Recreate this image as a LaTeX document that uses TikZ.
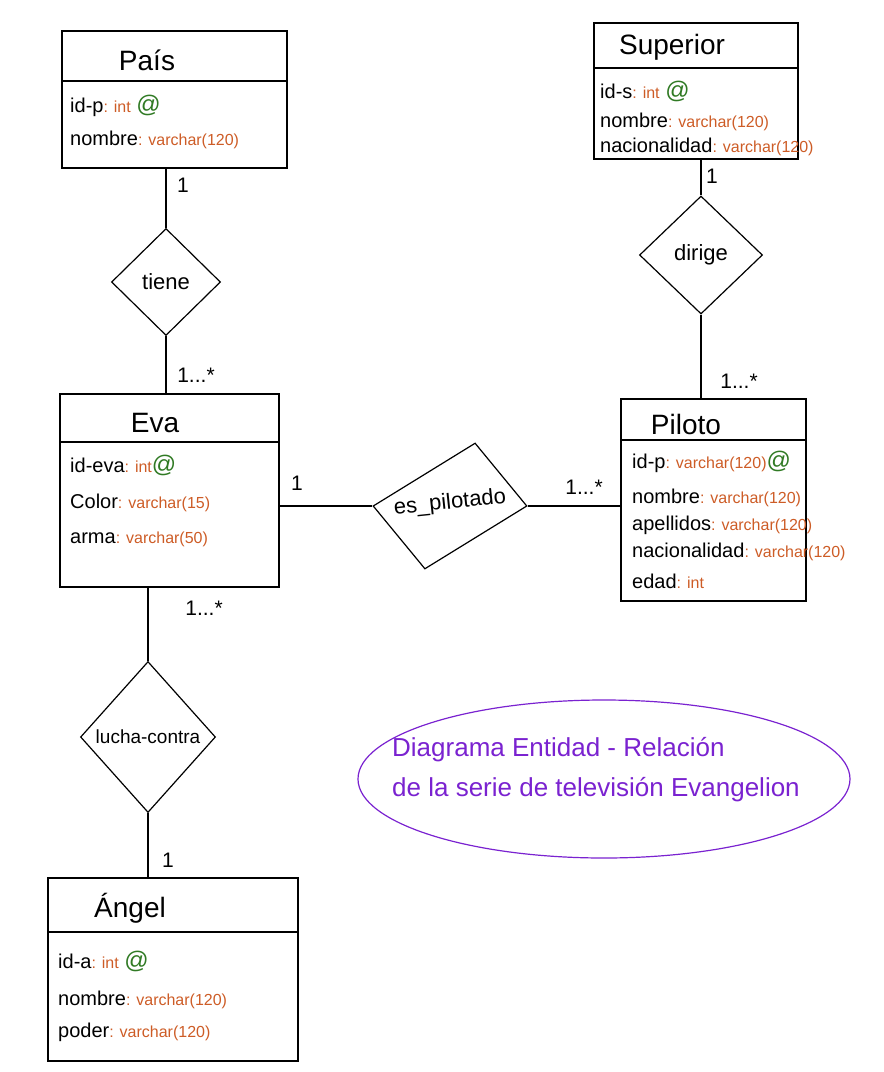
\documentclass[tikz,border=0pt]{standalone}
\usepackage{fontspec}
\setmainfont{Liberation Sans}
\usepackage{tikz}
\usetikzlibrary{shapes.geometric,positioning,calc}
\definecolor{typeorange}{RGB}{205,92,38}
\definecolor{keygreen}{RGB}{48,122,36}
\definecolor{notepurple}{RGB}{122,34,208}
\newcommand{\typ}[1]{{\color{typeorange}\fontsize{16}{18}\selectfont #1}}
\newcommand{\pk}{{\color{keygreen}\fontsize{24}{26}\selectfont @}}

\begin{document}
\begin{tikzpicture}[x=1pt,y=-1pt,
    entity/.style={draw,line width=1.5pt,anchor=north west,inner sep=0pt},
    entname/.style={font=\fontsize{28}{30}\selectfont},
    attr/.style={anchor=base west,inner sep=0pt,font=\fontsize{20}{22}\selectfont},
    relation/.style={draw,diamond,line width=1.2pt,inner sep=0pt},
    reltext/.style={font=\fontsize{22}{24}\selectfont},
    mult/.style={font=\fontsize{21}{22}\selectfont},
    link/.style={line width=1.3pt}
  ]
\useasboundingbox (0,0) rectangle (884,1072);

\node[entity,minimum width=225pt,minimum height=137pt] (pais) at (61,30) {};
\node[entity,minimum width=204pt,minimum height=136pt] (superior) at (593,22) {};
\node[entity,minimum width=219pt,minimum height=193pt] (eva) at (59,393) {};
\node[entity,minimum width=185pt,minimum height=202pt] (piloto) at (620,398) {};
\node[entity,minimum width=250pt,minimum height=183pt] (angel) at (47,877) {};

\draw[line width=1.5pt] ($(pais.north west)+(0,51)$) -- ($(pais.north east)+(0,51)$);
\draw[line width=1.5pt] ($(superior.north west)+(0,46)$) -- ($(superior.north east)+(0,46)$);
\draw[line width=1.5pt] ($(eva.north west)+(0,49)$) -- ($(eva.north east)+(0,49)$);
\draw[line width=1.5pt] ($(piloto.north west)+(0,42)$) -- ($(piloto.north east)+(0,42)$);
\draw[line width=1.5pt] ($(angel.north west)+(0,55)$) -- ($(angel.north east)+(0,55)$);

\node[entname] (paisname) at (147,60) {País};
\node[entname] (superiorname) at (672,47) {Superior};
\node[entname] (evaname) at (155,423) {Eva};
\node[entname] (pilotoname) at (686,424) {Piloto};
\node[entname] (angelname) at (130,908) {Ángel};

\node[attr] (pais1) at (70,112) {id-p\typ{: int} \pk};
\node[attr] (pais2) at (70,145) {nombre\typ{: varchar(120)}};

\node[attr] (superior1) at (600,98) {id-s\typ{: int} \pk};
\node[attr] (superior2) at (600,127) {nombre\typ{: varchar(120)}};
\node[attr] (superior3) at (600,152) {nacionalidad\typ{: varchar(120)}};

\node[attr] (eva1) at (70,472) {id-eva\typ{: int}\pk};
\node[attr] (eva2) at (70,508) {Color\typ{: varchar(15)}};
\node[attr] (eva3) at (70,543) {arma\typ{: varchar(50)}};

\node[attr] (piloto1) at (632,468) {id-p\typ{: varchar(120)}\pk};
\node[attr] (piloto2) at (632,503) {nombre\typ{: varchar(120)}};
\node[attr] (piloto3) at (632,530) {apellidos\typ{: varchar(120)}};
\node[attr] (piloto4) at (632,557) {nacionalidad\typ{: varchar(120)}};
\node[attr] (piloto5) at (632,588) {edad\typ{: int}};

\node[attr] (angel1) at (58,968) {id-a\typ{: int} \pk};
\node[attr] (angel2) at (58,1005) {nombre\typ{: varchar(120)}};
\node[attr] (angel3) at (58,1037) {poder\typ{: varchar(120)}};

\node[relation,minimum width=109pt,minimum height=107pt,label={[reltext]center:tiene}] (tiene) at (166,282) {};
\node[relation,minimum width=123pt,minimum height=118pt,label={[reltext]center:dirige}] (dirige) at (701,255) {};
\node[relation,minimum width=135pt,minimum height=151pt,label={[reltext,font=\fontsize{19}{22}\selectfont]center:lucha-contra}] (lucha) at (148,737) {};
\node[relation,minimum width=154pt,minimum height=126pt,xslant=0.4,transform shape] (pilotado) at (450,506) {};
\node[reltext,rotate=6] (pilotadotext) at (450,503) {es\_pilotado};

\draw[link] (tiene.north |- pais.south) -- (tiene.north);
\draw[link] (tiene.south) -- (tiene.south |- eva.north);
\draw[link] (dirige.north |- superior.south) -- (dirige.north);
\draw[link] (dirige.south) -- (dirige.south |- piloto.north);
\draw[link] (eva.east |- pilotado.west) -- (pilotado.west);
\draw[link] (pilotado.east) -- (pilotado.east -| piloto.west);
\draw[link] (lucha.north |- eva.south) -- (lucha.north);
\draw[link] (lucha.south) -- (lucha.south |- angel.north);

\node[mult] (m1) at (183,185) {1};
\node[mult] (m2) at (196,375) {1...*};
\node[mult] (m3) at (712,176) {1};
\node[mult] (m4) at (739,381) {1...*};
\node[mult] (m5) at (297,483) {1};
\node[mult] (m6) at (584,487) {1...*};
\node[mult] (m7) at (204,608) {1...*};
\node[mult] (m8) at (168,860) {1};

\node[draw=notepurple,ellipse,line width=1.2pt,minimum width=492pt,minimum height=158pt] (nota) at (604,779) {};
\node[font=\fontsize{26}{40}\selectfont,text=notepurple,align=left] (notatext) at (596,770) {Diagrama Entidad - Relación\\de la serie de televisión Evangelion};
\end{tikzpicture}
\end{document}
